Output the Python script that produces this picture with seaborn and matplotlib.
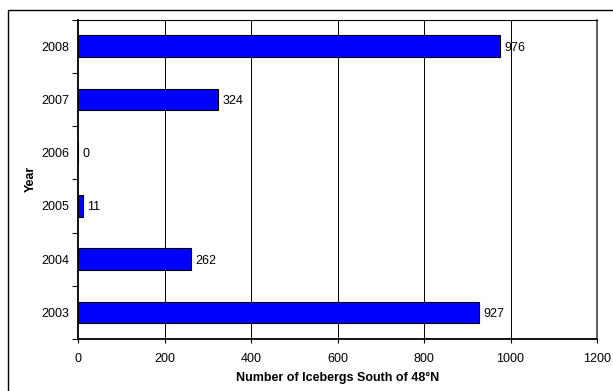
import matplotlib
matplotlib.use("Agg")
import matplotlib.pyplot as plt
import seaborn as sns
import pandas as pd
from matplotlib.patches import Rectangle
from matplotlib.ticker import FixedLocator

years = ["2008", "2007", "2006", "2005", "2004", "2003"]
icebergs = [976, 324, 0, 11, 262, 927]
x_ticks = [0, 200, 400, 600, 800, 1000, 1200]

df = pd.DataFrame({"Year": years, "Icebergs": icebergs})

sns.set_style("white")
plt.rcParams["font.family"] = ["Liberation Sans", "DejaVu Sans"]
plt.rcParams["text.color"] = "black"
plt.rcParams["axes.labelcolor"] = "black"
plt.rcParams["xtick.color"] = "black"
plt.rcParams["ytick.color"] = "black"

fs = 9

fig = plt.figure(figsize=(6.13, 3.91), dpi=100)
ax = fig.add_axes([78 / 613, 1 - 339 / 391, (597 - 78) / 613, (339 - 19.5) / 391])

sns.barplot(data=df, x="Icebergs", y="Year", order=years, orient="h",
            color="#0000FF", saturation=1, width=0.4,
            edgecolor="black", linewidth=0.8, ax=ax, zorder=3)

ax.set_xlim(0, 1200)
ax.set_ylim(len(years) - 0.5, -0.5)
ax.set_xticks(x_ticks)
ax.set_xticklabels([str(t) for t in x_ticks], fontsize=fs)
ax.tick_params(axis="y", which="major", length=0, labelsize=fs, pad=6.5)
ax.tick_params(axis="x", which="major", length=3, direction="out", width=0.8,
               labelsize=fs, pad=7)
ax.yaxis.set_minor_locator(FixedLocator([i + 0.5 for i in range(-1, len(years))]))
ax.tick_params(axis="y", which="minor", length=4, direction="out", width=0.8,
               left=True)
ax.tick_params(axis="x", bottom=True)

for t in x_ticks[1:-1]:
    ax.axvline(t, color="black", linewidth=0.7, zorder=1)

for sp in ["left", "bottom"]:
    ax.spines[sp].set_color("black")
    ax.spines[sp].set_linewidth(1.3)
ax.spines["top"].set_color("black")
ax.spines["top"].set_linewidth(0.8)
ax.spines["right"].set_color("#444444")
ax.spines["right"].set_linewidth(1.2)

for i, v in enumerate(icebergs):
    ax.annotate(str(v), xy=(v, i), xytext=(3, 0), textcoords="offset points",
                va="center_baseline", ha="left", fontsize=fs, zorder=4)

ax.set_xlabel("Number of Icebergs South of 48\u00b0N", fontsize=fs,
              fontweight="bold", labelpad=5)
ax.set_ylabel("Year", fontsize=fs, fontweight="bold", labelpad=3)

fig.patches.append(Rectangle((8 / 613, -0.1), 1.2, 1.1 - 10 / 391,
                             transform=fig.transFigure, fill=False,
                             edgecolor="black", linewidth=1.0))

fig.savefig("out.png", dpi=100)
